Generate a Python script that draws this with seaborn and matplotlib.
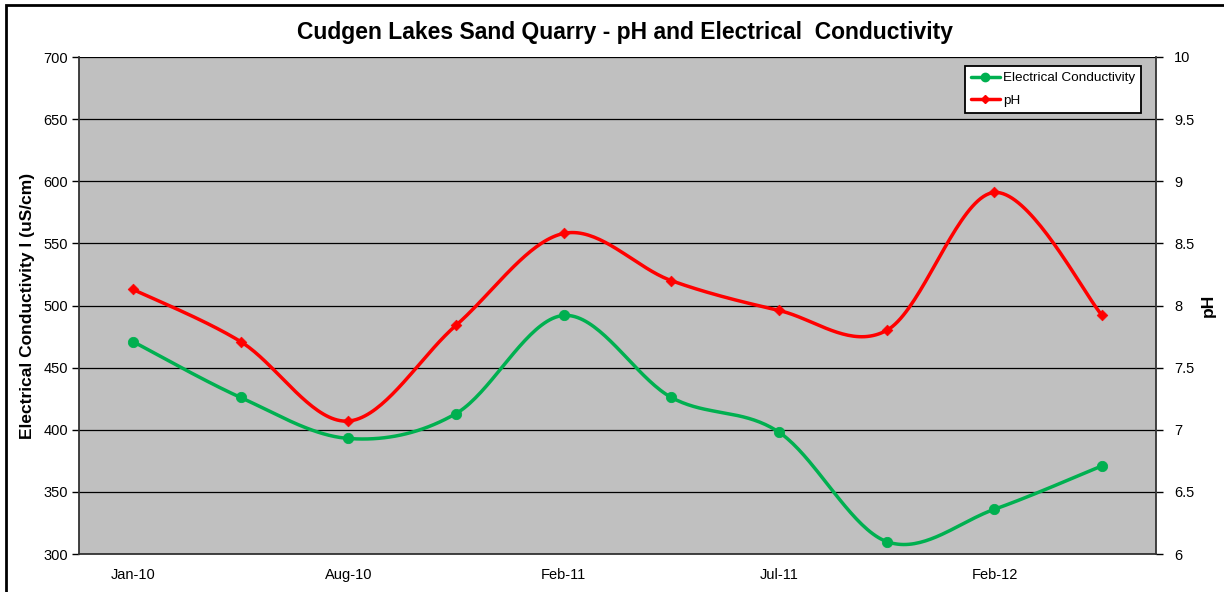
import numpy as np
import matplotlib
matplotlib.use("Agg")
import matplotlib.pyplot as plt
import seaborn as sns
from matplotlib.lines import Line2D
from matplotlib.patches import Rectangle

# Data
months = ["Jan-10", "Apr-10", "Aug-10", "Nov-10", "Feb-11",
          "May-11", "Jul-11", "Oct-11", "Feb-12", "May-12"]
shown_labels = ["Jan-10", "", "Aug-10", "", "Feb-11", "", "Jul-11", "", "Feb-12", ""]
ec = [471, 426, 393, 413, 492, 426, 398, 310, 336, 371]
ph = [8.13, 7.71, 7.07, 7.84, 8.58, 8.20, 7.96, 7.80, 8.91, 7.92]

GREEN = "#00B050"
RED = "#FF0000"
GREY = "#C0C0C0"


def smooth(xv, yv, n=40):
    # Excel-style smoothed line (Catmull-Rom bezier through the points)
    xv = np.asarray(xv, float)
    yv = np.asarray(yv, float)
    pts = np.column_stack([xv, yv])
    out = []
    for i in range(len(pts) - 1):
        p0 = pts[i - 1] if i > 0 else pts[i]
        p1 = pts[i]
        p2 = pts[i + 1]
        p3 = pts[i + 2] if i + 2 < len(pts) else pts[i + 1]
        c1 = p1 + (p2 - p0) / 6
        c2 = p2 - (p3 - p1) / 6
        t = np.linspace(0, 1, n)[:, None]
        seg = ((1 - t) ** 3) * p1 + 3 * ((1 - t) ** 2) * t * c1 + 3 * (1 - t) * t ** 2 * c2 + t ** 3 * p2
        out.append(seg if i == 0 else seg[1:])
    out = np.vstack(out)
    return out[:, 0], out[:, 1]


sns.set_style("white")
plt.rcParams["font.family"] = ["Liberation Sans", "DejaVu Sans"]
plt.rcParams["text.color"] = "black"
plt.rcParams["axes.labelcolor"] = "black"
plt.rcParams["xtick.color"] = "black"
plt.rcParams["ytick.color"] = "black"

fig = plt.figure(figsize=(12.24, 5.92), dpi=100)
ax = fig.add_axes([79 / 1224, 1 - 554 / 592, (1156 - 79) / 1224, (554 - 57) / 592])
ax2 = ax.twinx()

x = np.arange(len(months))

ax.set_facecolor(GREY)
ax.set_xlim(-0.5, len(months) - 0.5)
ax.set_ylim(300, 700)
ax.set_yticks(np.arange(300, 701, 50))
ax.grid(axis="y", color="black", linewidth=0.9)
ax.set_axisbelow(True)
ax.set_xticks(np.arange(-0.5, len(months), 1.0))
ax.set_xticklabels([])
ax.set_xticks(x, minor=True)
ax.set_xticklabels(shown_labels, minor=True)
ax.tick_params(axis="x", which="major", length=5, width=1, color="black", direction="out")
ax.tick_params(axis="x", which="minor", length=0, pad=10, labelsize=10.5)
ax.tick_params(axis="y", length=5, width=1, color="black", direction="out", labelsize=10.5, pad=3)

ax2.set_ylim(6, 10)
ax2.set_yticks(np.arange(6, 10.01, 0.5))
ax2.set_yticklabels(["6", "6.5", "7", "7.5", "8", "8.5", "9", "9.5", "10"])
ax2.tick_params(axis="y", length=5, width=1, color="black", direction="out", labelsize=10.5, pad=8)

for a in (ax, ax2):
    for s in a.spines.values():
        s.set_visible(False)
ax.spines["left"].set_visible(True)
ax.spines["bottom"].set_visible(True)
ax2.spines["right"].set_visible(True)
for s in (ax.spines["left"], ax.spines["bottom"], ax2.spines["right"]):
    s.set_color("#333333")
    s.set_linewidth(1.3)

# Electrical conductivity (left axis)
sx, sy = smooth(x, ec)
sns.lineplot(x=sx, y=sy, ax=ax, color=GREEN, linewidth=2.5, sort=False, estimator=None)
sns.scatterplot(x=x, y=ec, ax=ax, color=GREEN, marker="o", s=55, edgecolor=GREEN, zorder=5)

# pH (right axis)
px, py = smooth(x, ph)
sns.lineplot(x=px, y=py, ax=ax2, color=RED, linewidth=2.5, sort=False, estimator=None)
sns.scatterplot(x=x, y=ph, ax=ax2, color=RED, marker="D", s=30, edgecolor=RED, zorder=5)

ax.set_ylabel("Electrical Conductivity l (uS/cm)", fontsize=12.5, fontweight="bold", labelpad=6)
ax2.set_ylabel("pH", fontsize=12.5, fontweight="bold", labelpad=5)
ax.set_xlabel("")

fig.suptitle("Cudgen Lakes Sand Quarry - pH and Electrical  Conductivity",
             x=625 / 1224, y=1 - 33 / 592, va="center", fontsize=16.5, fontweight="bold")

handles = [
    Line2D([], [], color=GREEN, marker="o", markersize=6, linewidth=2.5),
    Line2D([], [], color=RED, marker="D", markersize=4.5, linewidth=2.5),
]
leg = ax2.legend(handles, ["Electrical Conductivity", "pH"], loc="upper right",
                 bbox_to_anchor=(0.9925, 0.996), fontsize=9.7, frameon=True,
                 fancybox=False, edgecolor="black", framealpha=1,
                 handlelength=2.2, handletextpad=0.2, borderpad=0.45, labelspacing=0.75)
leg.get_frame().set_linewidth(1.3)

# outer chart border
fig.patches.append(Rectangle((6 / 1224, -0.05), 1.2, 1 - 5 / 592 + 0.05,
                             transform=fig.transFigure, fill=False,
                             edgecolor="black", linewidth=2))

fig.savefig("out.png", dpi=100, facecolor="white")
